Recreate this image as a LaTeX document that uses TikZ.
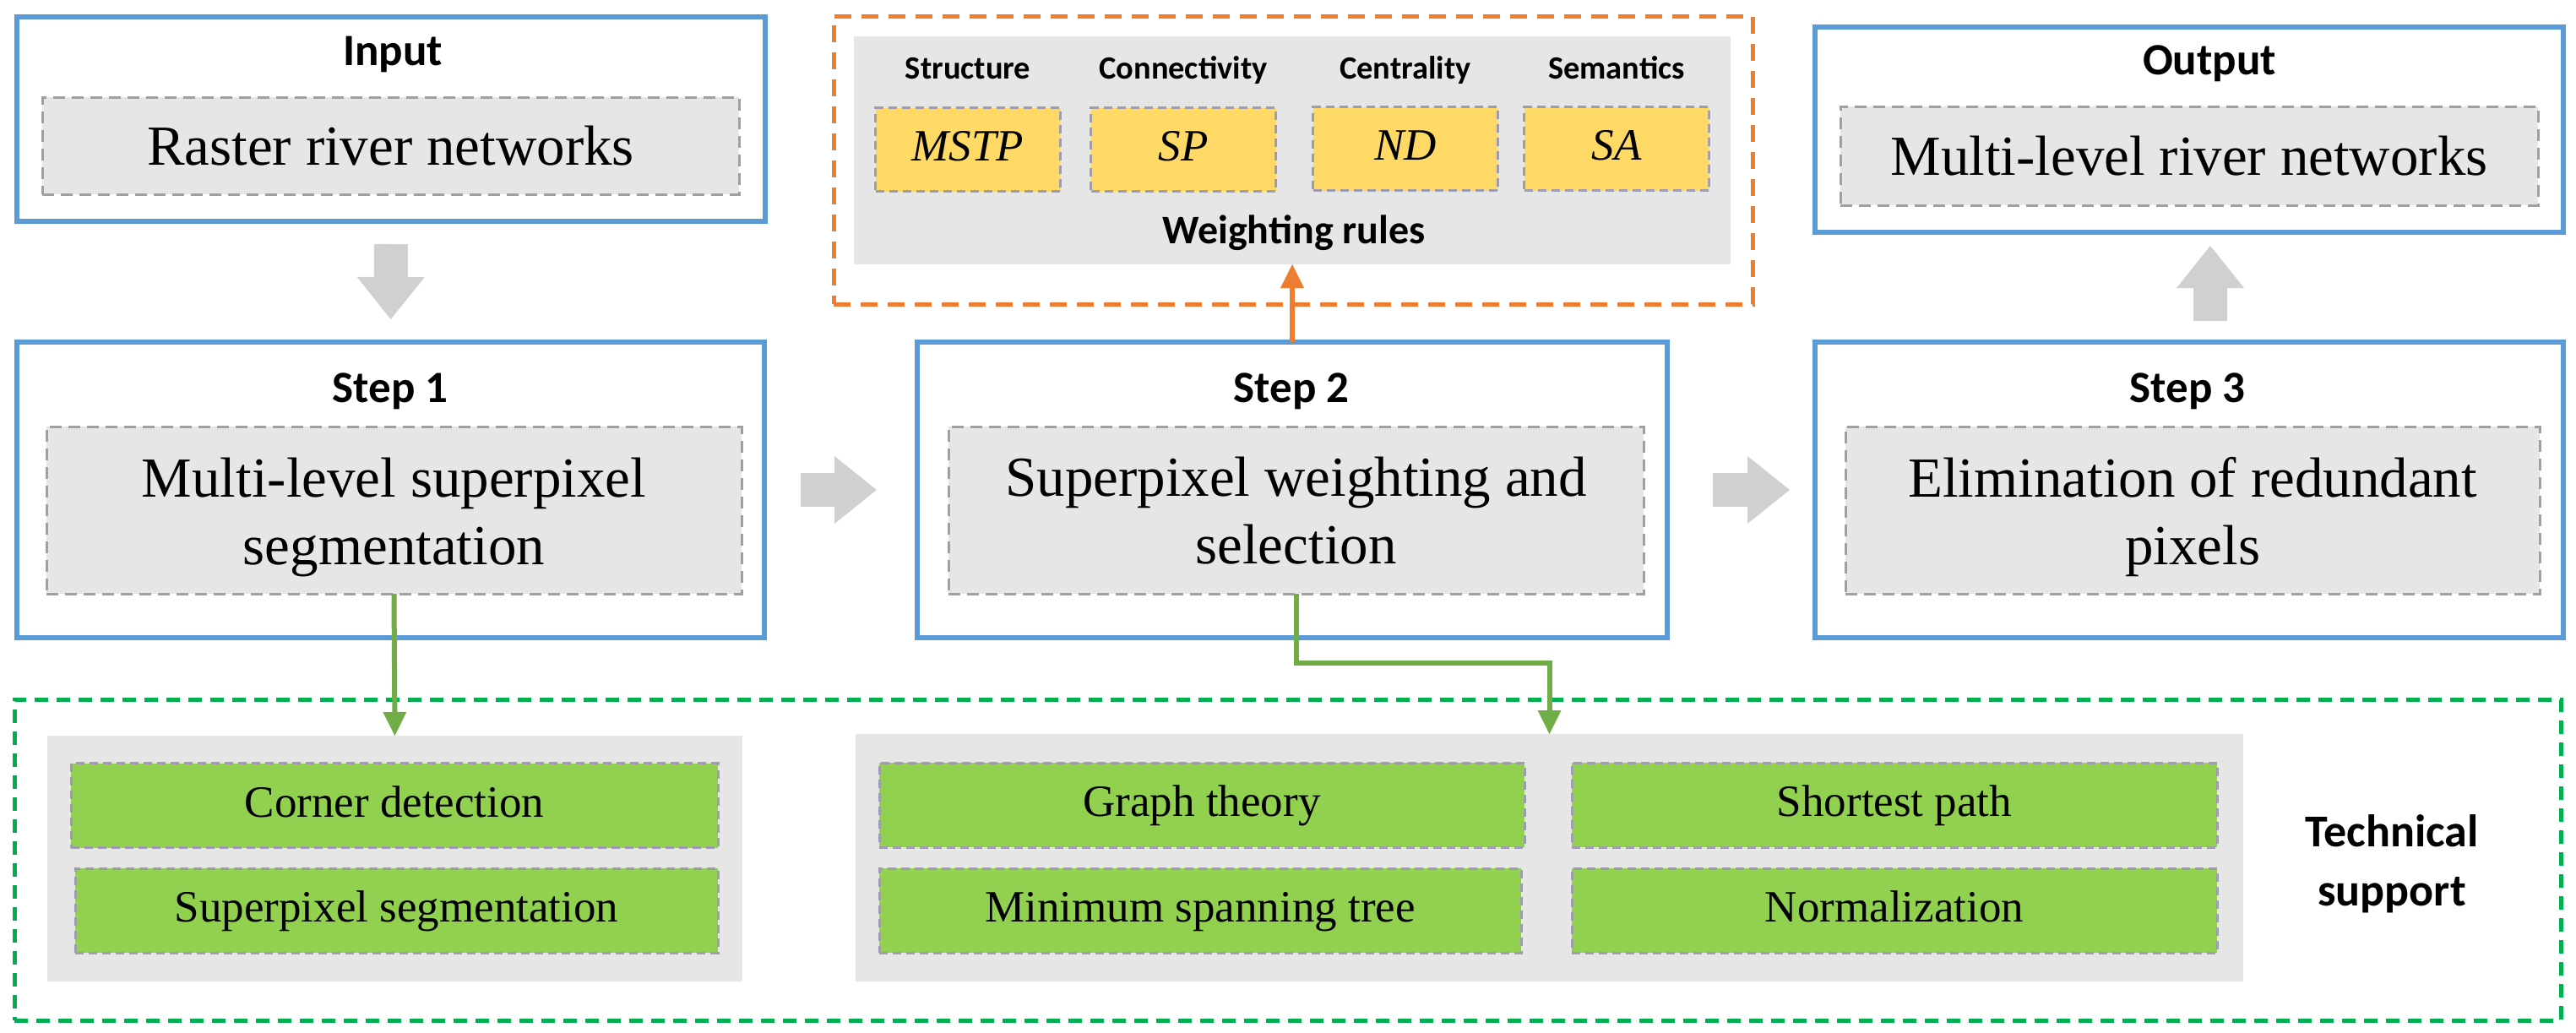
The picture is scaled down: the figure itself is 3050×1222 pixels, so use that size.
\documentclass[tikz,border=0pt]{standalone}
\usepackage{fontspec}
\setmainfont{Liberation Serif}
\newfontfamily\lblfont{Carlito}
\usetikzlibrary{arrows.meta,calc}
\definecolor{blueC}{HTML}{5B9BD5}
\definecolor{grayF}{HTML}{E7E6E6}
\definecolor{dashG}{HTML}{A0A0A0}
\definecolor{dashP}{HTML}{A09CB0}
\definecolor{yellowC}{HTML}{FFD966}
\definecolor{greenF}{HTML}{92D050}
\definecolor{greenD}{HTML}{00B050}
\definecolor{greenA}{HTML}{70AD47}
\definecolor{orangeC}{HTML}{ED7D31}
\definecolor{arrG}{HTML}{D0D0D0}
\begin{document}
\begin{tikzpicture}[x=0.25pt,y=-0.25pt,
  every node/.style={inner sep=0pt,outer sep=0pt},
  bluebox/.style={draw=blueC,line width=1.5pt,fill=white,rectangle},
  grayin/.style={draw=dashG,fill=grayF,line width=0.75pt,dash pattern=on 3.5pt off 2pt,rectangle},
  panel/.style={fill=grayF,rectangle},
  ybox/.style={draw=dashP,fill=yellowC,line width=0.75pt,dash pattern=on 2.5pt off 1.5pt,rectangle,
    minimum width=54.75pt,minimum height=24.75pt,font=\fontsize{13.25}{16}\selectfont\itshape,
    text height=0.66em,text depth=0pt},
  gbox/.style={draw=dashP,fill=greenF,line width=0.75pt,dash pattern=on 2.5pt off 1.5pt,rectangle,
    minimum height=25pt,font=\fontsize{13.25}{16}\selectfont,text height=0.68em,text depth=0pt},
  bigtxt/.style={font=\fontsize{16.75}{20}\selectfont,align=center},
  lbl/.style={font=\lblfont\bfseries\fontsize{13.25}{16}\selectfont},
  hdr/.style={font=\lblfont\bfseries\fontsize{9.6}{12}\selectfont,anchor=base},
  blockarrow/.style={draw=arrG,line width=10pt,-{Triangle[length=12.5pt,width=20pt,line width=0pt]}},
  thinarrow/.style={line width=1.5pt,-{Triangle[length=7pt,width=7pt,line width=0pt]}}
]
\fill[white] (0,0) rectangle (3050,1222);
\useasboundingbox (0,0) rectangle (3050,1222);

% Input
\node[bluebox,minimum width=221.5pt,minimum height=60.5pt] (input) at (463,141) {};
\node[grayin,minimum width=206.25pt,minimum height=28.75pt,bigtxt] (inin) at (462.5,172.5) {Raster river networks};
\node[lbl,anchor=base] (inlbl) at (465,77) {Input};

% Output
\node[bluebox,minimum width=221.5pt,minimum height=60.75pt] (output) at (2592,153.5) {};
\node[grayin,minimum width=206.5pt,minimum height=29.25pt,bigtxt] (outin) at (2592,184.5) {Multi-level river networks};
\node[lbl,anchor=base] (outlbl) at (2616,88) {Output};

% Steps
\node[bluebox,minimum width=221.25pt,minimum height=87.5pt] (step1) at (462.5,580) {};
\node[grayin,minimum width=205.75pt,minimum height=49.5pt] (s1in) at (466.5,604) {};
\node[bigtxt] (s1txt) at (466.5,612) {Multi-level superpixel\\segmentation};
\node[lbl,anchor=base] (s1lbl) at (462,476) {Step 1};

\node[bluebox,minimum width=222pt,minimum height=87.5pt] (step2) at (1530,580) {};
\node[grayin,minimum width=205.75pt,minimum height=49.5pt] (s2in) at (1534.5,604) {};
\node[bigtxt] (s2txt) at (1534.5,605) {Superpixel weighting and\\selection};
\node[lbl,anchor=base] (s2lbl) at (1529,476) {Step 2};

\node[bluebox,minimum width=221.5pt,minimum height=87.5pt] (step3) at (2592,580) {};
\node[grayin,minimum width=205.5pt,minimum height=49.5pt] (s3in) at (2596,604) {};
\node[bigtxt] (s3txt) at (2596,612) {Elimination of redundant\\pixels};
\node[lbl,anchor=base] (s3lbl) at (2590,476) {Step 3};

% Weighting rules
\node[draw=orangeC,line width=1.25pt,dash pattern=on 5pt off 3pt,minimum width=272pt,minimum height=85.25pt] (wbox) at (1531,189.5) {};
\node[panel,minimum width=259.5pt,minimum height=67.5pt] (wpanel) at (1530,178) {};
\node[hdr] (h1) at (1146,93) {Structure};
\node[hdr] (h2) at (1401,93) {Connectivity};
\node[hdr] (h3) at (1664,93) {Centrality};
\node[hdr] (h4) at (1914,93) {Semantics};
\node[ybox] (y1) at (1146,177) {MSTP};
\node[ybox] (y2) at (1401,177) {SP};
\node[ybox] (y3) at (1664,176) {ND};
\node[ybox] (y4) at (1914,176) {SA};
\node[font=\lblfont\bfseries\fontsize{12}{14}\selectfont,anchor=base] (wr) at (1532,288) {Weighting rules};

% Technical support
\node[draw=greenD,line width=1.25pt,dash pattern=on 4pt off 2.5pt,minimum width=753.75pt,minimum height=95pt] (tech) at (1524.5,1018) {};
\node[panel,minimum width=205.75pt,minimum height=72.75pt] (tp1) at (467.5,1016.5) {};
\node[gbox,minimum width=191.5pt] (g1) at (467,953.5) {Corner detection};
\node[gbox,minimum width=190.25pt] (g2) at (469.5,1078) {Superpixel segmentation};
\node[panel,minimum width=410.75pt,minimum height=73.25pt] (tp2) at (1834.5,1015.5) {};
\node[gbox,minimum width=191pt] (g3) at (1423,953) {Graph theory};
\node[gbox,minimum width=190pt] (g4) at (1421,1078) {Minimum spanning tree};
\node[gbox,minimum width=191pt] (g5) at (2243,953) {Shortest path};
\node[gbox,minimum width=191pt] (g6) at (2243,1078) {Normalization};
\node[font=\lblfont\bfseries\fontsize{13.5}{17.5}\selectfont,align=center] (techlbl) at (2832,1023) {Technical\\support};

% Block arrows
\draw[blockarrow,shorten <=6.75pt,shorten >=6.75pt] (input.south) -- (step1.north);
\draw[blockarrow,shorten <=10.75pt,shorten >=12pt] (step1.east) -- (step2.west);
\draw[blockarrow,shorten <=13.5pt,shorten >=7.5pt] (step2.east) -- (step3.west);
\draw[blockarrow,shorten <=6.25pt,shorten >=4pt] ([xshift=6.25pt]step3.north) -- ([xshift=6.25pt]output.south);

% Thin arrows
\draw[thinarrow,orangeC] (step2.north) -- (wpanel.south);
\draw[thinarrow,greenA] (s1in.south) -- (tp1.north);
\draw[thinarrow,greenA] (s2in.south) -- ($(s2in.south)+(0,82)$) -| (tp2.north);
\end{tikzpicture}
\end{document}
